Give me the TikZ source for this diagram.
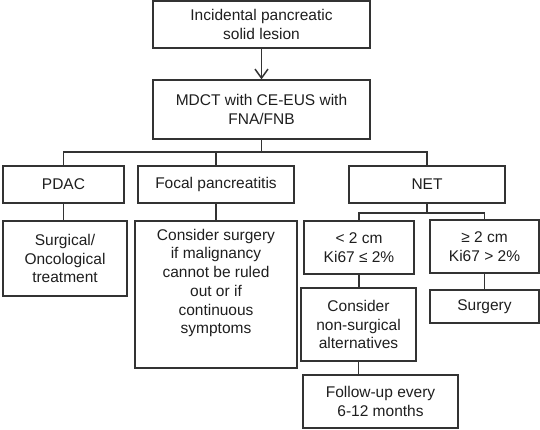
\documentclass[tikz,border=0pt]{standalone}
\usepackage{fontspec}
\setmainfont{Liberation Sans}
\usetikzlibrary{arrows.meta}
\definecolor{ln}{HTML}{333333}
\definecolor{tx}{HTML}{1E1E1E}
\begin{document}
\begin{tikzpicture}[x=1pt,y=-1pt,
  bx/.style 2 args={draw=ln, line width=1.3pt, minimum width=#1, minimum height=#2, inner sep=0pt, align=center, text=tx, font=\fontsize{15.5}{18.7}\selectfont},
  conn/.style={draw=ln, line width=1.3pt},
  txt/.style={align=center, text=tx, inner sep=0pt, font=\fontsize{15.5}{18.7}\selectfont}]
\useasboundingbox (0,0) rectangle (540,429);
\node[bx={217pt}{47pt}] (top) at (261.5,24.5) {Incidental pancreatic\\solid lesion};
\node[bx={217pt}{59pt}] (mdct) at (261.5,109.5) {MDCT with CE-EUS with\\FNA/FNB};
\node[bx={121pt}{37pt}] (pdac) at (63.5,184.5) {PDAC};
\node[bx={156pt}{37pt}] (focal) at (216,184.5) {Focal pancreatitis};
\node[bx={156pt}{37pt}] (net) at (427,184.5) {NET};
\node[bx={124pt}{75pt}] (surg) at (65,258.5) {Surgical/\\Oncological\\treatment};
\node[bx={162pt}{147pt}] (cons) at (216,294.5) {};
\node[txt] (constext) at (216,283) {Consider surgery\\if malignancy\\cannot be ruled\\out or if\\continuous\\symptoms};
\node[bx={110pt}{53pt}] (lt2) at (359,247.5) {< 2 cm\\Ki67 ≤ 2\%};
\node[bx={109pt}{53pt}] (ge2) at (484.5,246.5) {≥ 2 cm\\Ki67 > 2\%};
\node[bx={115pt}{73pt}] (nons) at (358.5,324.5) {Consider\\non-surgical\\alternatives};
\node[bx={109pt}{33pt}] (surgery) at (484.5,306.5) {Surgery};
\node[bx={155pt}{53pt}] (follow) at (380.5,401.5) {Follow-up every\\6-12 months};
\coordinate (b1) at (0,152);
\coordinate (b2) at (0,213);
\draw[conn,-{Straight Barb[length=9pt,width=13pt,line width=1.5pt]}] (top.south) -- (mdct.north);
\draw[conn] (mdct.south) -- (mdct.south |- b1);
\draw[conn] (pdac.north) |- (net.north |- b1) -- (net.north);
\draw[conn] (focal.north) -- (focal.north |- b1);
\draw[conn] (pdac.south) -- (pdac.south |- surg.north);
\draw[conn] (focal.south) -- (cons.north);
\draw[conn] (net.south) -- (net.south |- b2);
\draw[conn] (lt2.north) |- (ge2.north |- b2) -- (ge2.north);
\draw[conn] (lt2.south) -- (lt2.south |- nons.north);
\draw[conn] (ge2.south) -- (surgery.north);
\draw[conn] (nons.south) -- (nons.south |- follow.north);
\end{tikzpicture}
\end{document}
